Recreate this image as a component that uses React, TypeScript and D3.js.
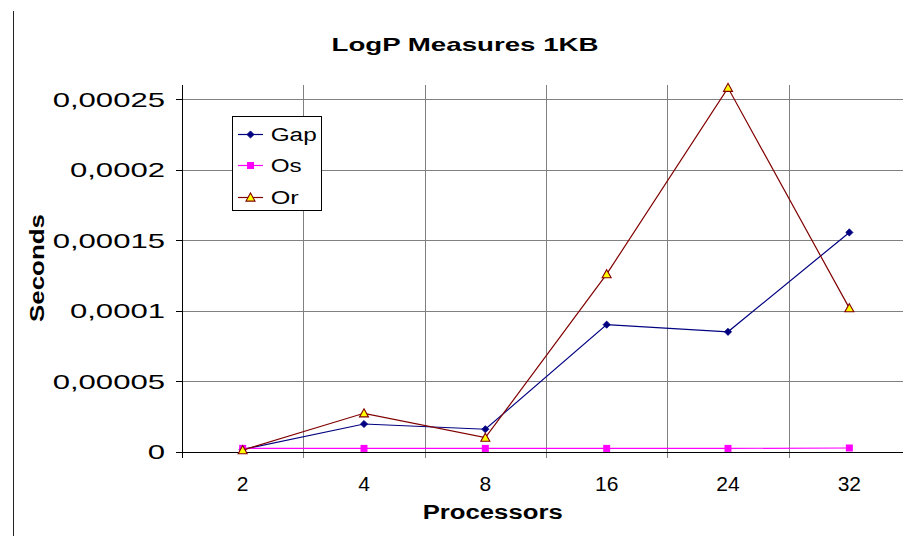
import React from "react";
import * as d3 from "d3";

const categories = ["2", "4", "8", "16", "24", "32"];
const gapValues = [0.0000015, 0.0000195, 0.0000158, 0.00009, 0.0000849, 0.0001554];
const osValues = [0.0000022, 0.0000022, 0.0000022, 0.0000022, 0.0000022, 0.0000025];
const orValues = [0.000001, 0.0000271, 0.0000098, 0.0001258, 0.000258, 0.0001017];
const yTicks = [0, 0.00005, 0.0001, 0.00015, 0.0002, 0.00025];
const yTickLabels = ["0", "0,00005", "0,0001", "0,00015", "0,0002", "0,00025"];
const seriesNames = ["Gap", "Os", "Or"];

const W = 903;
const H = 536;
const FONT = "'Liberation Sans', Arial, sans-serif";

export default function App() {
  const left = 182;
  const bottom = 451.5;
  const top = 85;
  const x = d3.scaleBand<string>().domain(categories).range([left, 910]).padding(0);
  const y = d3.scaleLinear().domain([0, 0.00026]).range([bottom, top]);
  const cx = (c: string) => (x(c) as number) + x.bandwidth() / 2;
  const px = (v: number) => Math.round(v) + 0.5;

  const series = [
    { name: seriesNames[0], values: gapValues, color: "#000080", marker: "diamond" },
    { name: seriesNames[1], values: osValues, color: "#FF00FF", marker: "square" },
    { name: seriesNames[2], values: orValues, color: "#800000", marker: "triangle" },
  ];

  const line = d3
    .line<number>()
    .x((_, i) => cx(categories[i]))
    .y((d) => y(d));

  const marker = (type: string, mx: number, my: number, color: string, key: string) => {
    if (type === "diamond") {
      const s = 3.6;
      return (
        <path key={key} d={`M${mx},${my - s}L${mx + s},${my}L${mx},${my + s}L${mx - s},${my}Z`} fill={color} stroke={color} strokeWidth={0.8} />
      );
    }
    if (type === "square") {
      return <rect key={key} x={mx - 3.5} y={my - 3.5} width={7} height={7} fill={color} />;
    }
    const s = 4.5;
    return (
      <path key={key} d={`M${mx},${my - s}L${mx + s},${my + s * 0.8}L${mx - s},${my + s * 0.8}Z`} fill="#FFFF00" stroke={color} strokeWidth={1.1} />
    );
  };

  const boundaries = categories.map((c) => x(c) as number).slice(1);

  const legendRows = [134, 165, 197];
  const legendWidths = [46, 31, 28];

  return (
    <svg width={W} height={H} style={{ position: "absolute", left: 0, top: 0, background: "#fff" }} fontFamily={FONT}>
      <rect x={0} y={0} width={W} height={H} fill="#fff" />
      {/* left border line */}
      <line x1={13.5} x2={13.5} y1={11} y2={H} stroke="#222" strokeWidth={1} />

      {/* title */}
      <text x={465} y={51} textAnchor="middle" fontWeight="bold" fontSize={19} textLength={267} lengthAdjust="spacingAndGlyphs">
        LogP Measures 1KB
      </text>

      {/* horizontal gridlines */}
      {yTicks.slice(1).map((t) => (
        <line key={"h" + t} x1={left} x2={W} y1={px(y(t))} y2={px(y(t))} stroke="#808080" strokeWidth={1} />
      ))}
      {/* vertical gridlines */}
      {boundaries.map((b, i) => (
        <line key={"v" + i} x1={px(b)} x2={px(b)} y1={top} y2={458} stroke="#808080" strokeWidth={1} />
      ))}

      {/* axes */}
      <line x1={px(left)} x2={px(left)} y1={top} y2={458} stroke="#000" strokeWidth={1} />
      <line x1={left} x2={W} y1={px(bottom)} y2={px(bottom)} stroke="#000" strokeWidth={1} />
      {yTicks.map((t) => (
        <line key={"yt" + t} x1={176} x2={left} y1={px(y(t))} y2={px(y(t))} stroke="#000" strokeWidth={1} />
      ))}

      {/* y tick labels */}
      {yTicks.map((t, i) => (
        <text key={"yl" + t} transform={`translate(165,${y(t) + 7.5}) scale(1.48,1)`} textAnchor="end" fontSize={21}>
          {yTickLabels[i]}
        </text>
      ))}

      {/* x tick labels */}
      {categories.map((c) => (
        <text key={"xl" + c} x={cx(c)} y={491} textAnchor="middle" fontSize={21}>
          {c}
        </text>
      ))}

      {/* axis titles */}
      <text x={492.7} y={519} textAnchor="middle" fontWeight="bold" fontSize={20} textLength={140} lengthAdjust="spacingAndGlyphs">
        Processors
      </text>
      <text transform="translate(44,268) rotate(-90)" textAnchor="middle" fontWeight="bold" fontSize={20} textLength={108} lengthAdjust="spacingAndGlyphs">
        Seconds
      </text>

      {/* series */}
      {series.map((s) => (
        <g key={s.name}>
          <path d={line(s.values) as string} fill="none" stroke={s.color} strokeWidth={1.2} />
          {s.values.map((v, i) => marker(s.marker, cx(categories[i]), y(v), s.color, s.name + i))}
        </g>
      ))}

      {/* legend */}
      <rect x={232.5} y={116.5} width={89} height={94} fill="#fff" stroke="#000" strokeWidth={1} />
      {series.map((s, i) => (
        <g key={"lg" + s.name}>
          <line x1={238} x2={263} y1={legendRows[i] + 0.5} y2={legendRows[i] + 0.5} stroke={s.color} strokeWidth={1.2} />
          {marker(s.marker, 250.5, legendRows[i] + 0.5, s.color, "lm" + i)}
          <text x={270.7} y={legendRows[i] + 7} fontSize={18} textLength={legendWidths[i]} lengthAdjust="spacingAndGlyphs">
            {s.name}
          </text>
        </g>
      ))}
    </svg>
  );
}
